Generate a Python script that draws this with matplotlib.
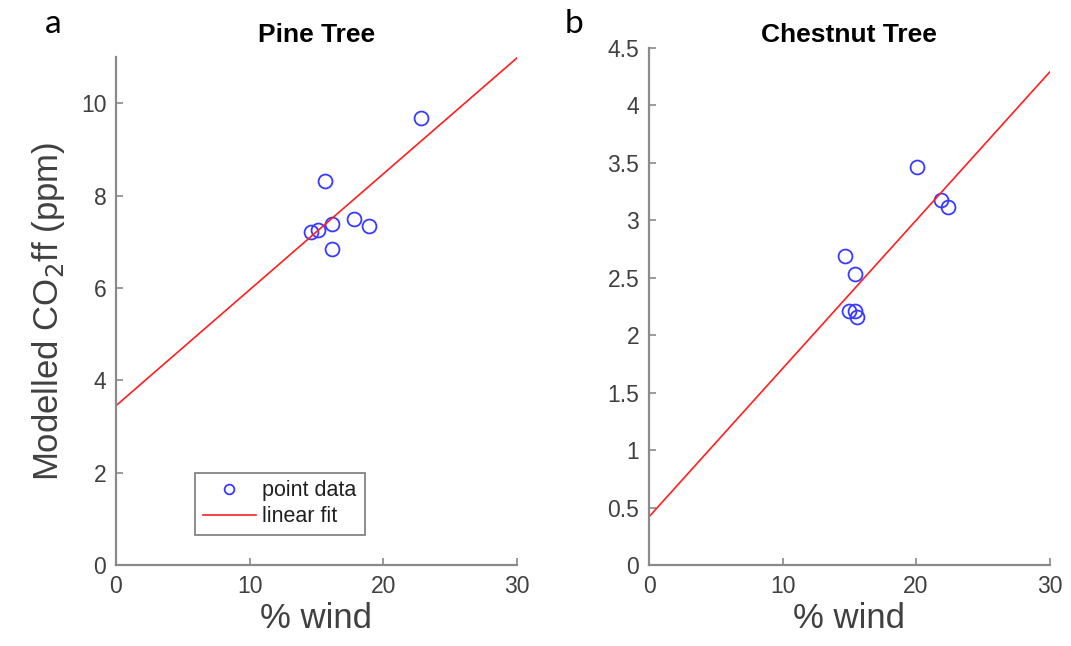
import numpy as np
import matplotlib
matplotlib.use('Agg')
import matplotlib.pyplot as plt

# Pine tree panel
pine_wind = [22.8, 15.6, 14.6, 15.1, 16.15, 16.15, 17.8, 18.9]
pine_co2 = [9.68, 8.32, 7.21, 7.26, 7.39, 6.85, 7.50, 7.34]
pine_fit = [0.251, 3.45]  # slope, intercept

# Chestnut tree panel
chest_wind = [20.1, 21.9, 22.4, 14.66, 15.4, 14.96, 15.4, 15.55]
chest_co2 = [3.46, 3.18, 3.12, 2.69, 2.53, 2.21, 2.21, 2.16]
chest_fit = [0.129, 0.42]

x_ticks = [0, 10, 20, 30]
pine_yticks = [0, 2, 4, 6, 8, 10]
chest_yticks = [0, 0.5, 1, 1.5, 2, 2.5, 3, 3.5, 4, 4.5]
chest_ylabels = ['0', '0.5', '1', '1.5', '2', '2.5', '3', '3.5', '4', '4.5']

plt.rcParams['font.family'] = ['Liberation Sans', 'DejaVu Sans']
TXT = '#404040'
SPINE = '#8a8a8a'

fig = plt.figure(figsize=(10.71, 6.46), dpi=100)
ax1 = fig.add_axes([0.1083, 0.1254, 0.3744, 0.7864])
ax2 = fig.add_axes([0.606, 0.1254, 0.374, 0.8003])


def style(ax, ylim, yticks, ylabels=None):
    ax.set_xlim(0, 30)
    ax.set_ylim(*ylim)
    ax.set_xticks(x_ticks)
    ax.set_yticks(yticks)
    if ylabels is not None:
        ax.set_yticklabels(ylabels)
    for s in ['top', 'right']:
        ax.spines[s].set_visible(False)
    for s in ['left', 'bottom']:
        ax.spines[s].set_color(SPINE)
        ax.spines[s].set_linewidth(1.6)
    ax.tick_params(direction='in', length=5, width=1.2, color=SPINE,
                   labelcolor=TXT, labelsize=16.5, pad=7)
    ax.set_xlabel('% wind', fontsize=25, color=TXT, labelpad=3)


xfit = np.array([0, 30])

ax1.plot(pine_wind, pine_co2, 'o', mfc='none', mec='#3a3aff', ms=10,
         mew=1.3, label='point data', clip_on=False)
ax1.plot(xfit, pine_fit[0] * xfit + pine_fit[1], color='#ff2020', lw=1.2,
         label='linear fit')
style(ax1, (0, 11), pine_yticks)
ax1.set_ylabel('Modelled CO$_2$ff (ppm)', fontsize=25, color=TXT, labelpad=10)
leg = ax1.legend(loc='lower left', bbox_to_anchor=(0.197, 0.059, 0.424, 0.122),
                 mode='expand', fontsize=15.5, fancybox=False, framealpha=1,
                 edgecolor='#7a7a7a', borderpad=0.35, labelspacing=0.25,
                 handlelength=2.5, handletextpad=0.25, borderaxespad=0)
leg.get_frame().set_linewidth(1.2)
for t in leg.get_texts():
    t.set_color('#202020')
leg.legend_handles[0].set_markersize(7)

ax2.plot(chest_wind, chest_co2, 'o', mfc='none', mec='#3a3aff', ms=10,
         mew=1.3, clip_on=False)
ax2.plot(xfit, chest_fit[0] * xfit + chest_fit[1], color='#ff2020', lw=1.2)
style(ax2, (0, 4.5), chest_yticks, chest_ylabels)

fig.text(0.296, 0.946, 'Pine Tree', fontsize=19, fontweight='bold',
         ha='center', va='center')
fig.text(0.793, 0.946, 'Chestnut Tree', fontsize=19, fontweight='bold',
         ha='center', va='center')

fig.text(0.042, 0.963, 'a', fontsize=24, family=['Lato', 'DejaVu Sans'],
         va='center', ha='left')
fig.text(0.527, 0.963, 'b', fontsize=24, family=['Lato', 'DejaVu Sans'],
         va='center', ha='left')

fig.savefig('out.png', dpi=100)
